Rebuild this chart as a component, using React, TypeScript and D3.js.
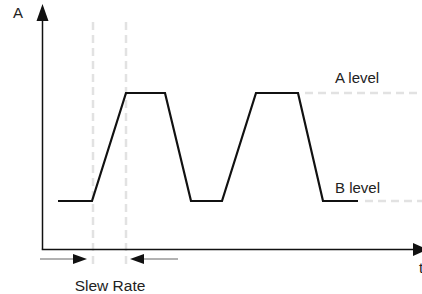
import * as d3 from "d3";

// waveform: time (arbitrary units) and level (0 = B level, 1 = A level)
const waveTimes = [16, 50, 84, 123, 149, 180, 214, 256, 281, 316];
const waveLevels = [0, 0, 1, 1, 0, 0, 1, 1, 0, 0];
// slew rate markers (start and end of first rising edge)
const slewTimes = [51, 84];
const levelLabels = ["B level", "A level"];

const width = 422;
const height = 294;

export default function App() {
	const x = d3.scaleLinear().domain([0, 380]).range([42, 422]);
	const y = d3.scaleLinear().domain([0, 1]).range([201, 93]);

	const points: [number, number][] = waveTimes.map((t, i) => [t, waveLevels[i]]);
	const line = d3
		.line<[number, number]>()
		.x((d) => x(d[0]))
		.y((d) => y(d[1]));

	const axisY = 249.5;
	const axisX = 42.5;
	const dash = "8,5";
	const gray = "#e2e2e2";
	const font = "'Liberation Sans', Arial, Helvetica, sans-serif";

	const lastT = waveTimes[waveTimes.length - 1];
	const plateauEnd = waveTimes[7];

	return (
		<svg
			width={width}
			height={height}
			style={{ position: "absolute", left: 0, top: 0, background: "#fff" }}
		>
			{/* guide lines */}
			{slewTimes.map((t, i) => (
				<line
					key={"v" + i}
					x1={x(t)}
					x2={x(t)}
					y1={22}
					y2={266}
					stroke={gray}
					strokeWidth={2.5}
					strokeDasharray={dash}
				/>
			))}
			<line
				x1={x(plateauEnd) + 7}
				x2={width}
				y1={y(1)}
				y2={y(1)}
				stroke={gray}
				strokeWidth={2.5}
				strokeDasharray={dash}
			/>
			<line
				x1={x(lastT) + 7}
				x2={width}
				y1={y(0)}
				y2={y(0)}
				stroke={gray}
				strokeWidth={2.5}
				strokeDasharray={dash}
			/>

			{/* axes */}
			<line x1={axisX} x2={axisX} y1={axisY} y2={18} stroke="#111" strokeWidth={1.5} />
			<path d={`M${axisX},4 L${axisX - 6},21 L${axisX + 6},21 Z`} fill="#111" />
			<line x1={axisX - 0.75} x2={414} y1={axisY} y2={axisY} stroke="#111" strokeWidth={1.5} />
			<path d={`M428,${axisY} L413,${axisY - 6.5} L413,${axisY + 6.5} Z`} fill="#111" />

			{/* waveform */}
			<path d={line(points) ?? ""} fill="none" stroke="#111" strokeWidth={2.2} strokeLinejoin="miter" />

			{/* slew rate arrows */}
			<line x1={40} x2={75} y1={259} y2={259} stroke="#666" strokeWidth={1.2} />
			<path d={`M${x(slewTimes[0]) - 6},259 L${x(slewTimes[0]) - 20},254 L${x(slewTimes[0]) - 20},264 Z`} fill="#111" />
			<line x1={x(slewTimes[1]) + 16} x2={178} y1={259} y2={259} stroke="#666" strokeWidth={1.2} />
			<path d={`M${x(slewTimes[1]) + 4},259 L${x(slewTimes[1]) + 18},254 L${x(slewTimes[1]) + 18},264 Z`} fill="#111" />

			{/* labels */}
			<text x={13} y={18} fontFamily={font} fontSize={15} fill="#222">A</text>
			<text x={419} y={273} fontFamily={font} fontSize={15} fill="#222">t</text>
			<text x={335} y={83} fontFamily={font} fontSize={15} fill="#222">{levelLabels[1]}</text>
			<text x={335} y={193} fontFamily={font} fontSize={15} fill="#222">{levelLabels[0]}</text>
			<text x={110} y={291} textAnchor="middle" fontFamily={font} fontSize={15.5} fill="#222">
				Slew Rate
			</text>
		</svg>
	);
}
